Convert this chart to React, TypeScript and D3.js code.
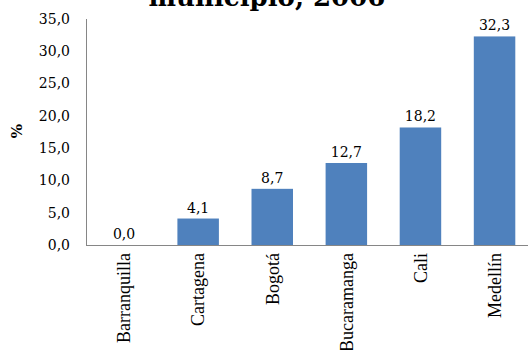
import React from "react";
import * as d3 from "d3";

const categories = ["Barranquilla", "Cartagena", "Bogotá", "Bucaramanga", "Cali", "Medellín"];
const values = [0.0, 4.1, 8.7, 12.7, 18.2, 32.3];
const yTicks = [0, 5, 10, 15, 20, 25, 30, 35];
const titleText = "municipio, 2006";
const yAxisLabel = "%";

const W = 528;
const H = 350;
const fmt = (v: number) => v.toFixed(1).replace(".", ",");

export default function App() {
  const x = d3.scaleBand<string>().domain(categories).range([87, 531.6]).paddingInner(0.44).paddingOuter(0.22);
  const y = d3.scaleLinear().domain([0, 35]).range([245, 19]);
  const numFont = "'DejaVu Serif', Georgia, serif";
  return (
    <svg width={W} height={H} style={{ position: "absolute", left: 0, top: 0, background: "#fff" }}>
      <text x={267} y={6} textAnchor="middle" fontFamily={numFont} fontWeight="bold" fontSize={26} fill="#000">
        {titleText}
      </text>
      {yTicks.map((t) => (
        <text key={t} x={70} y={y(t)} dy="0.35em" textAnchor="end" fontFamily={numFont} fontSize={14} fill="#000">
          {fmt(t)}
        </text>
      ))}
      <text transform={`translate(22,131) rotate(-90)`} textAnchor="middle" fontFamily={numFont} fontWeight="bold" fontSize={15} fill="#000">
        {yAxisLabel}
      </text>
      {categories.map((c, i) => (
        <g key={c}>
          <rect x={x(c)!} y={y(values[i])} width={x.bandwidth()} height={y(0) - y(values[i])} fill="#4F81BD" />
          <text x={x(c)! + x.bandwidth() / 2} y={y(values[i]) - 6} textAnchor="middle" fontFamily={numFont} fontSize={14} fill="#000">
            {fmt(values[i])}
          </text>
          <text
            transform={`translate(${x(c)! + x.bandwidth() / 2},253) rotate(-90)`}
            dy="0.35em"
            textAnchor="end"
            fontFamily="'Liberation Serif', 'Times New Roman', serif"
            fontSize={18}
            fill="#000"
          >
            {c}
          </text>
        </g>
      ))}
      <line x1={86.5} x2={86.5} y1={19} y2={245.5} stroke="#868686" strokeWidth={1} />
      <line x1={86} x2={W} y1={245.5} y2={245.5} stroke="#868686" strokeWidth={1} />
    </svg>
  );
}
